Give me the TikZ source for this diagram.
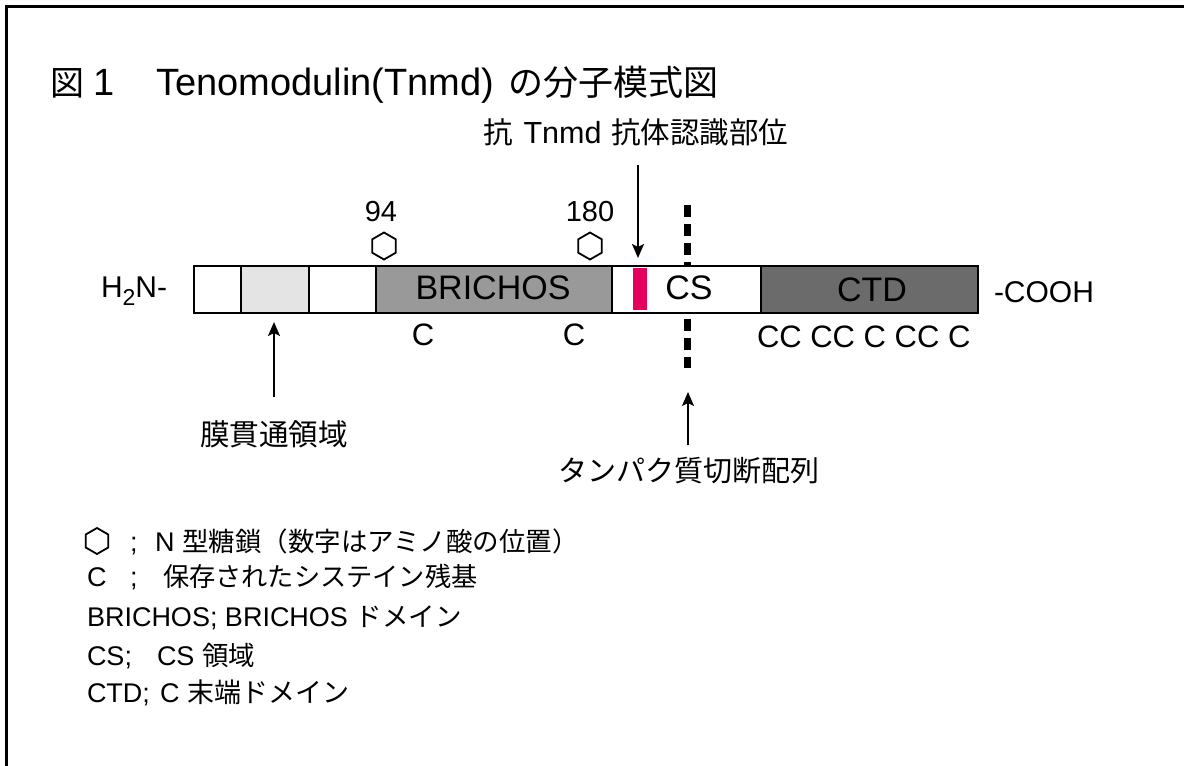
\documentclass[tikz,border=0pt]{standalone}
\usepackage{fontspec}
\setmainfont{Liberation Sans}
\newfontfamily\jp{Noto Sans CJK JP}
\usetikzlibrary{arrows.meta,shapes.geometric}
\newcommand\setfs[1]{\fontsize{#1pt}{#1pt}\selectfont}
\definecolor{tmgray}{RGB}{227,228,227}
\definecolor{brgray}{RGB}{153,153,153}
\definecolor{ctdgray}{RGB}{107,107,107}
\definecolor{abred}{RGB}{230,0,94}
\begin{document}
\begin{tikzpicture}[x=1pt,y=-1pt,
  seg/.style={draw=black, line width=2pt, minimum height=47pt, inner sep=0pt, anchor=north west},
  lbl/.style={inner sep=0pt, outer sep=0pt},
  hexa/.style={regular polygon, regular polygon sides=6, shape border rotate=30, draw=black, line width=1.8pt, minimum size=27pt, inner sep=0pt},
  arr/.style={line width=2pt, -{Stealth[length=14pt,width=12pt,inset=3pt]}},
  cut/.style={line width=7pt, dash pattern=on 12pt off 7pt},
  leg/.style={lbl, anchor=base west, font=\setfs{27}}]
\useasboundingbox (0,0) rectangle (1184,766);
% frame
\coordinate (fa) at (6.5,766);
\coordinate (fb) at (6.5,6);
\coordinate (fc) at (1184,6);
\draw[line width=3pt] (fa) -- (fb) -- (fc);
% title
\node[lbl, anchor=base west] (title) at (50,95) {{\jp\setfs{34}図}\setfs{38}\hspace{9pt}1\hspace{42pt}Tenomodulin(Tnmd)\hspace{14pt}{\jp\setfs{35}の分子模式図}};
% cleavage dashed line (behind bar)
\coordinate (cut1) at (687,205);
\coordinate (cut2) at (687,368);
\draw[cut] (cut1) -- (cut2);
% bar segments
\node[seg, fill=white, minimum width=47pt] (s1) at (193,265) {};
\node[seg, fill=tmgray, minimum width=68pt] (s2) at (240,265) {};
\node[seg, fill=white, minimum width=67pt] (s3) at (308,265) {};
\node[seg, fill=brgray, minimum width=236pt] (s4) at (375,265) {};
\node[seg, fill=white, minimum width=149pt] (s5) at (611,265) {};
\node[seg, fill=ctdgray, minimum width=217pt] (s6) at (760,265) {};
\node[fill=abred, inner sep=0pt, minimum width=14pt, minimum height=42pt, anchor=north west] (red) at (633,268) {};
% bar texts
\node[lbl, anchor=base] (tbr) at (493,299) {\setfs{34}BRICHOS};
\node[lbl, anchor=base] (tcs) at (689,299) {\setfs{34}CS};
\node[lbl, anchor=base] (tctd) at (872,301) {\setfs{34}CTD};
\node[lbl, anchor=base west] (nterm) at (101,297) {\setfs{30}H\raisebox{-8pt}{\setfs{23}2}N-};
\node[lbl, anchor=base west] (cterm) at (994,302) {\setfs{30}-COOH};
% glycosylation sites
\node[lbl, anchor=base] (n94) at (381,221) {\setfs{29}94};
\node[lbl, anchor=base] (n180) at (590,221) {\setfs{29}180};
\node[hexa] (h1) at (384,246) {};
\node[hexa] (h2) at (590,246) {};
% cysteines
\node[lbl, anchor=base] (c1) at (423,345) {\setfs{31}C};
\node[lbl, anchor=base] (c2) at (574,345) {\setfs{31}C};
\node[lbl, anchor=base west] (c3) at (757,347) {\setfs{31}CC CC C CC C};
% antibody site
\node[lbl, anchor=base west] (ab) at (483,143) {{\jp\setfs{29.5}抗}\setfs{30.5}\hspace{11pt}Tnmd\hspace{10pt}{\jp\setfs{29.5}抗体認識部位}};
\coordinate (abtail) at (638,165);
\coordinate (abtip) at (638,258);
\draw[arr] (abtail) -- (abtip);
% transmembrane
\node[lbl, anchor=base west] (tm) at (200,445) {\jp\setfs{29.6}膜貫通領域};
\coordinate (tmtail) at (274,397);
\coordinate (tmtip) at (274,322);
\draw[arr] (tmtail) -- (tmtip);
% cleavage
\node[lbl, anchor=base west] (cl) at (558,481) {\jp\setfs{29}タンパク質切断配列};
\coordinate (cltail) at (688,445);
\coordinate (cltip) at (688,392);
\draw[arr] (cltail) -- (cltip);
% legend
\node[hexa, minimum size=26pt] (lh) at (97,541) {};
\node[leg] (l1s) at (130,551) {;};
\node[leg] (l1) at (155,551) {N {\jp\setfs{26.5}型糖鎖（数字はアミノ酸の位置）}};
\node[leg] (l2a) at (87,586) {C};
\node[leg] (l2s) at (130,586) {;};
\node[leg] (l2) at (163,586) {\jp\setfs{26.2}保存されたシステイン残基};
\node[leg] (l3) at (87,626) {BRICHOS; BRICHOS {\jp\setfs{26.5}ドメイン}};
\node[leg] (l4a) at (87,665) {CS;};
\node[leg] (l4) at (157,665) {CS {\jp\setfs{26.5}領域}};
\node[leg] (l5a) at (87,702) {CTD;};
\node[leg] (l5) at (160,702) {C {\jp\setfs{27}末端ドメイン}};
\end{tikzpicture}
\end{document}
